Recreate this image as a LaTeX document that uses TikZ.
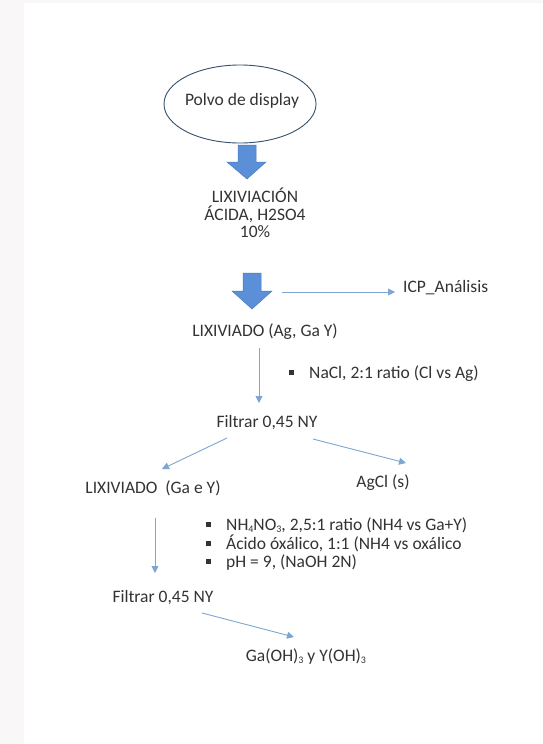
\documentclass[tikz,border=0pt]{standalone}
\usepackage{fontspec}
\setmainfont{Carlito}
\usetikzlibrary{arrows.meta,shapes.geometric}
\definecolor{txt}{HTML}{333333}
\definecolor{ln}{HTML}{7EA6D2}
\definecolor{blk}{HTML}{5B8FD8}
\definecolor{blkd}{HTML}{4A7BBF}
\definecolor{ell}{HTML}{34506E}
\definecolor{edge}{HTML}{FAF7F8}
\tikzset{
  lbl/.style={text=txt,font=\fontsize{17.5}{17.5}\selectfont,inner sep=0pt,align=center},
  conn/.style={draw=ln,line width=0.9pt,-{Triangle[length=7pt,width=7pt]}},
  blockarrow/.style={fill=blk,draw=blkd,line width=0.5pt},
  bul/.style={lbl,anchor=base west,align=left},
}
\newcommand{\bx}{\makebox[20pt][l]{\rule[3pt]{5pt}{5pt}}}
\newcommand{\sbx}[1]{\raisebox{-2.5pt}{\fontsize{10}{10}\selectfont #1}}
\begin{document}
\begin{tikzpicture}[x=1pt,y=-1pt]
\fill[white] (0,0) rectangle (543,744);
\fill[edge] (0,0) rectangle (24,744);
\fill[edge] (0,0) rectangle (543,3);
\useasboundingbox (0,0) rectangle (543,744);
% ellipse
\node[draw=ell,line width=0.9pt,ellipse,minimum width=152pt,minimum height=78pt,inner sep=0pt] (polvo) at (240,104) {};
\node[lbl] (polvot) at (242,101) {Polvo de display};
% block arrow 1
\fill[blockarrow] (238,145) -- (256,145) -- (256,162) -- (266,162) -- (247,179) -- (227,162) -- (238,162) -- cycle;
\node[lbl] (lix) at (255,213) {LIXIVIACIÓN\\ÁCIDA, H2SO4\\10\%};
% block arrow 2
\fill[blockarrow] (243,273) -- (261,273) -- (261,291) -- (272,291) -- (252,309) -- (232,291) -- (243,291) -- cycle;
\coordinate (icps) at (282,292);
\coordinate (icpe) at (395,292);
\node[lbl,anchor=west] (icp) at (403,288) {ICP\_Análisis};
\draw[conn] (icps) -- (icpe);
\node[lbl] (lx1) at (265,332) {LIXIVIADO (Ag, Ga Y)};
\coordinate (v1s) at (259,348);
\coordinate (v1e) at (259,403);
\draw[conn] (v1s) -- (v1e);
\node[bul] (nacl) at (289,378) {\bx NaCl, 2:1 ratio (Cl vs Ag)};
\node[lbl] (f1) at (267,423) {Filtrar 0,45 NY};
\coordinate (a1s) at (227,438);
\coordinate (a1e) at (162,469);
\coordinate (a2s) at (313,439);
\coordinate (a2e) at (406,463);
\draw[conn] (a1s) -- (a1e);
\draw[conn] (a2s) -- (a2e);
\node[lbl] (lx2) at (153,488) {LIXIVIADO\ \ (Ga e Y)};
\node[lbl] (agcl) at (383,483) {AgCl (s)};
\coordinate (v2s) at (155,518);
\coordinate (v2e) at (155,573);
\draw[conn] (v2s) -- (v2e);
\node[bul] (b1) at (206,530) {\bx NH\sbx{4}NO\sbx{3}, 2,5:1 ratio (NH4 vs Ga+Y)};
\node[bul] (b2) at (206,549) {\bx Ácido óxálico, 1:1 (NH4 vs oxálico};
\node[bul] (b3) at (206,567) {\bx pH = 9, (NaOH 2N)};
\node[lbl] (f2) at (163,598) {Filtrar 0,45 NY};
\coordinate (a3s) at (202,613);
\coordinate (a3e) at (294,637);
\draw[conn] (a3s) -- (a3e);
\node[lbl,anchor=base] (gaoh) at (306,661) {Ga(OH)\sbx{3} y Y(OH)\sbx{3}};
\end{tikzpicture}
\end{document}
